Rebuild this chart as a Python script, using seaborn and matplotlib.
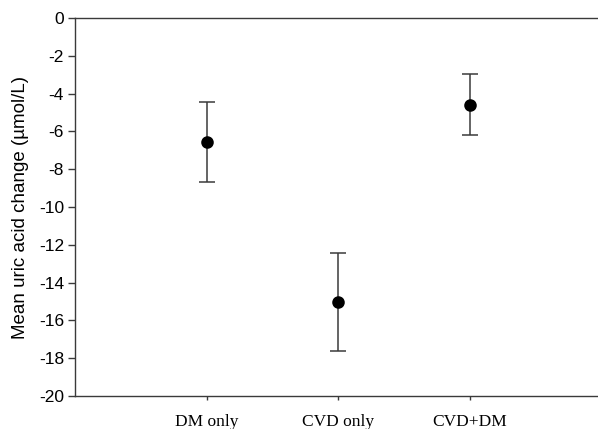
import numpy as np
import pandas as pd
import matplotlib
matplotlib.use("Agg")
import matplotlib.pyplot as plt
import seaborn as sns

# values
groups = ["DM only", "CVD only", "CVD+DM"]
mean_change = [-6.57, -15.03, -4.58]
ci_lower = [-8.70, -17.63, -6.19]
ci_upper = [-4.43, -12.43, -2.95]

df = pd.DataFrame({"group": groups, "mean": mean_change,
                   "lo": ci_lower, "hi": ci_upper})

sns.set_theme(style="white")
plt.rcParams["font.family"] = ["Liberation Sans", "DejaVu Sans"]
plt.rcParams["text.color"] = "black"
plt.rcParams["axes.labelcolor"] = "black"
plt.rcParams["xtick.color"] = "black"
plt.rcParams["ytick.color"] = "black"

fig = plt.figure(figsize=(5.98, 4.29), dpi=100)
ax = fig.add_axes([0.1254, 0.0769, 0.881, 0.881])

sns.pointplot(data=df, x="group", y="mean", order=groups, color="black",
              linestyle="none", errorbar=None, markersize=7, ax=ax, zorder=3)

xpos = np.arange(len(groups))
yerr = np.vstack([df["mean"] - df["lo"], df["hi"] - df["mean"]])
ax.errorbar(xpos, df["mean"], yerr=yerr, fmt="none", ecolor="#3a3a3a",
            elinewidth=1.1, capsize=5.5, capthick=1.1, zorder=2)

ax.set_xlim(-1, 3)
ax.set_ylim(-20, 0)
ax.set_yticks(np.arange(-20, 1, 2))
ax.set_yticklabels([str(v) for v in range(-20, 1, 2)], fontsize=12.5)
ax.set_xticks(xpos)
ax.set_xticklabels(groups, fontsize=12.5, family=["Liberation Serif", "DejaVu Serif"])
ax.set_xlabel("")
ax.set_ylabel("Mean uric acid change (\u00b5mol/L)", fontsize=13.5, labelpad=7)

for side in ["left", "bottom", "top"]:
    ax.spines[side].set_color("#3a3a3a")
    ax.spines[side].set_linewidth(1.0)
ax.spines["right"].set_visible(False)
ax.tick_params(axis="y", direction="out", length=5, width=1, color="#3a3a3a",
               labelcolor="black", left=True, pad=3)
ax.tick_params(axis="x", direction="out", length=3, width=1, color="#3a3a3a",
               labelcolor="black", bottom=True, pad=10)

fig.savefig("out.png", dpi=100)
